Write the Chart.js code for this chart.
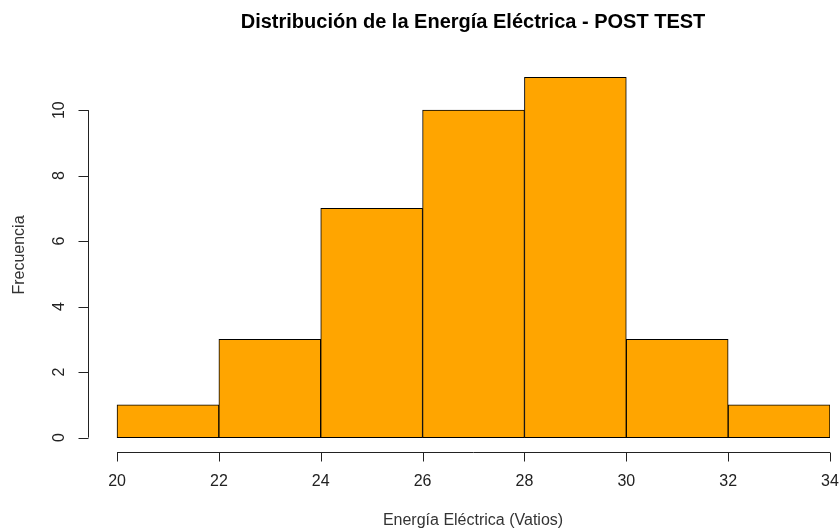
<!DOCTYPE html>
<html>
<head>
<meta charset="utf-8">
<script src="https://cdn.jsdelivr.net/npm/chart.js@4"></script>
<style>
  html, body { margin: 0; padding: 0; background: #fff; }
  #wrap { width: 840px; height: 531px; }
</style>
</head>
<body>
<div id="wrap"><canvas id="histChart" width="840" height="531"></canvas></div>
<script>
// intervalos del histograma (puntos medios) y frecuencias
const binCenters = [21, 23, 25, 27, 29, 31, 33];
const frequencies = [1, 3, 7, 10, 11, 3, 1];
const xTicks = [20, 22, 24, 26, 28, 30, 32, 34];
const yTicks = [0, 2, 4, 6, 8, 10];

const titleText = "Distribución de la Energía Eléctrica - POST TEST";
const xLabel = "Energía Eléctrica (Vatios)";
const yLabel = "Frecuencia";

// ejes estilo R, separados del area de barras
const rAxes = {
  id: "rAxes",
  afterDraw(chart) {
    const ctx = chart.ctx;
    const x = chart.scales.x;
    const y = chart.scales.y;
    const area = chart.chartArea;
    const midX = 473;

    ctx.save();
    ctx.strokeStyle = "#222";
    ctx.fillStyle = "#222";
    ctx.lineWidth = 1;

    // eje x
    const axY = Math.round(area.bottom) + 0.5;
    ctx.beginPath();
    ctx.moveTo(x.getPixelForValue(xTicks[0]), axY);
    ctx.lineTo(x.getPixelForValue(xTicks[xTicks.length - 1]), axY);
    xTicks.forEach(t => {
      const px = Math.round(x.getPixelForValue(t)) + 0.5;
      ctx.moveTo(px, axY);
      ctx.lineTo(px, axY + 9);
    });
    ctx.stroke();
    ctx.font = "16px 'Liberation Sans', Arial, sans-serif";
    ctx.textAlign = "center";
    ctx.textBaseline = "middle";
    xTicks.forEach(t => ctx.fillText(String(t), x.getPixelForValue(t), 482));

    // eje y
    const axX = Math.round(area.left) + 0.5;
    ctx.beginPath();
    ctx.moveTo(axX, y.getPixelForValue(yTicks[0]));
    ctx.lineTo(axX, y.getPixelForValue(yTicks[yTicks.length - 1]));
    yTicks.forEach(t => {
      const py = Math.round(y.getPixelForValue(t)) + 0.5;
      ctx.moveTo(axX, py);
      ctx.lineTo(axX - 10, py);
    });
    ctx.stroke();
    yTicks.forEach(t => {
      ctx.save();
      ctx.translate(60, y.getPixelForValue(t));
      ctx.rotate(-Math.PI / 2);
      ctx.fillText(String(t), 0, 0);
      ctx.restore();
    });

    // titulos
    ctx.fillStyle = "#333";
    ctx.font = "16px 'Liberation Sans', Arial, sans-serif";
    ctx.fillText(xLabel, midX, 521);
    ctx.save();
    ctx.translate(20, 255);
    ctx.rotate(-Math.PI / 2);
    ctx.fillText(yLabel, 0, 0);
    ctx.restore();

    ctx.fillStyle = "#000";
    ctx.font = "bold 20px 'Liberation Sans', Arial, sans-serif";
    ctx.fillText(titleText, midX, 22);
    ctx.restore();
  }
};

const ctx = document.getElementById("histChart").getContext("2d");
new Chart(ctx, {
  type: "bar",
  data: {
    datasets: [{
      data: binCenters.map((c, i) => ({ x: c, y: frequencies[i] })),
      backgroundColor: "#FFA500",
      borderColor: "#000",
      borderWidth: 1,
      borderSkipped: false,
      barPercentage: 1,
      categoryPercentage: 1
    }]
  },
  options: {
    responsive: false,
    animation: false,
    layout: { padding: { left: 88, right: 10, top: 63, bottom: 79 } },
    plugins: { legend: { display: false }, tooltip: { enabled: false } },
    scales: {
      x: { type: "linear", min: 19.43, max: 34, offset: false, display: false },
      y: { min: -0.44, max: 11.44, display: false }
    }
  },
  plugins: [rAxes]
});
</script>
</body>
</html>
